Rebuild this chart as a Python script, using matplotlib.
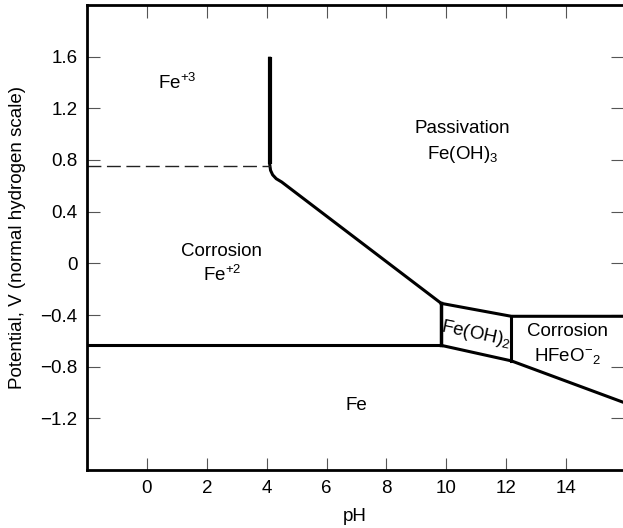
import matplotlib.pyplot as plt

plt.rcParams["font.family"] = ["Liberation Sans", "DejaVu Sans"]
plt.rcParams["mathtext.fontset"] = "custom"
plt.rcParams["mathtext.rm"] = "Liberation Sans"
plt.rcParams["mathtext.it"] = "Liberation Sans:italic"

# boundary lines (pH, V)
fe3_ph = [4.1, 4.1, 4.13, 4.2, 4.32, 4.5, 9.83]
fe3_v = [1.6, 0.77, 0.72, 0.685, 0.655, 0.63, -0.31]
dash_ph = [-2.0, 4.1]
dash_v = [0.75, 0.75]
fe_ph = [-2.0, 9.83]
fe_v = [-0.635, -0.635]
box_top_ph = [9.83, 12.17, 15.9]
box_top_v = [-0.31, -0.41, -0.41]
box_bot_ph = [9.83, 12.17, 15.9]
box_bot_v = [-0.635, -0.755, -1.075]
left_wall_ph = [9.83, 9.83]
left_wall_v = [-0.31, -0.635]
right_wall_ph = [12.17, 12.17]
right_wall_v = [-0.41, -0.755]

xticks = [0, 2, 4, 6, 8, 10, 12, 14]
yticks = [1.6, 1.2, 0.8, 0.4, 0, -0.4, -0.8, -1.2]
ylabels = ["1.6", "1.2", "0.8", "0.4", "0", "\u22120.4", "\u22120.8", "\u22121.2"]

fig = plt.figure(figsize=(6.23, 5.28), dpi=100)
ax = fig.add_axes([87 / 623, 58 / 528, 536 / 623, 465 / 528])

ax.plot(fe3_ph[:2], fe3_v[:2], color="black", lw=3.0, solid_capstyle="butt")
ax.plot(fe3_ph, fe3_v, color="black", lw=2.2, solid_joinstyle="round",
        solid_capstyle="butt")
ax.plot(dash_ph, dash_v, color="#222222", lw=1.0, ls=(0, (10, 4)))
ax.plot(fe_ph, fe_v, color="black", lw=2.2)
ax.plot(box_top_ph, box_top_v, color="black", lw=2.2)
ax.plot(box_bot_ph, box_bot_v, color="black", lw=2.2)
ax.plot(left_wall_ph, left_wall_v, color="black", lw=2.5)
ax.plot(right_wall_ph, right_wall_v, color="black", lw=2.2)

fs = 13.5
ax.text(1.0, 1.40, r"Fe$^{+3}$", fontsize=fs, ha="center", va="center")
ax.text(10.55, 1.04, "Passivation", fontsize=fs, ha="center", va="center")
ax.text(10.55, 0.84, r"Fe(OH)$_{3}$", fontsize=fs, ha="center", va="center")
ax.text(2.5, 0.09, "Corrosion", fontsize=fs, ha="center", va="center")
ax.text(2.5, -0.09, r"Fe$^{+2}$", fontsize=fs, ha="center", va="center")
ax.text(11.0, -0.545, r"Fe(OH)$_{2}$", fontsize=fs, ha="center", va="center",
        rotation=-12)
ax.text(14.05, -0.53, "Corrosion", fontsize=fs, ha="center", va="center")
ax.text(14.05, -0.72, r"HFeO$^{-}{}_{2}$", fontsize=fs, ha="center", va="center")
ax.text(7.0, -1.10, "Fe", fontsize=fs, ha="center", va="center")

ax.set_xlim(-2.0, 15.9)
ax.set_ylim(-1.6, 2.0)
ax.set_xticks(xticks)
ax.set_yticks(yticks)
ax.set_yticklabels(ylabels)
ax.tick_params(direction="in", length=9, width=0.8, color="#555555",
               labelsize=fs, top=True, right=True, pad=7)
ax.spines["right"].set_visible(False)
for s in ["left", "bottom", "top"]:
    ax.spines[s].set_linewidth(2.0)

ax.set_xlabel("pH", fontsize=fs, labelpad=8)
ax.set_ylabel("Potential, V (normal hydrogen scale)", fontsize=fs, labelpad=10)

fig.savefig("out.png", dpi=100)
